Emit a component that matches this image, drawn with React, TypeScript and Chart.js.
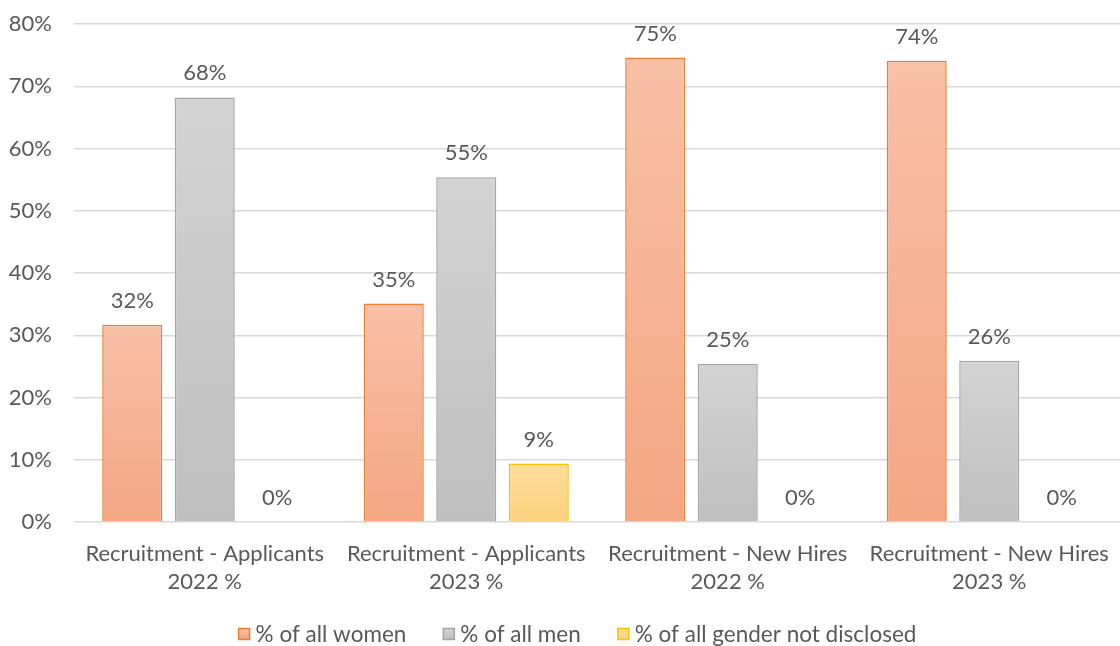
import React, { useEffect, useRef } from "react";
import { Chart, registerables } from "chart.js";
Chart.register(...registerables);

const categories: string[][] = [
  ["Recruitment - Applicants", "2022 %"],
  ["Recruitment - Applicants", "2023 %"],
  ["Recruitment - New Hires", "2022 %"],
  ["Recruitment - New Hires", "2023 %"],
];
const seriesNames = ["% of all women", "% of all men", "% of all gender not disclosed"];
const women = [31.7, 35.1, 74.6, 74.1];
const men = [68.2, 55.4, 25.4, 25.9];
const undisclosed = [0, 9.4, 0, 0];
const yMin = 0;
const yMax = 80;
const yStep = 10;

const FONT = "Lato";
const TEXT = "#595959";
const FS = 22;

const fills = [
  { top: "#f8c0a7", bottom: "#f4a682", border: "#ed7d31" },
  { top: "#d3d3d3", bottom: "#bfbfbf", border: "#a5a5a5" },
  { top: "#fedc9a", bottom: "#fdd27c", border: "#ffc000" },
];

function grad(top: string, bottom: string) {
  return (ctx: any) => {
    const chart = ctx.chart;
    if (!chart.chartArea || ctx.type !== "data") return bottom;
    const ys = chart.scales.y;
    const y0 = ys.getPixelForValue(0);
    const y1 = ys.getPixelForValue(ctx.raw);
    if (Math.abs(y0 - y1) < 1) return bottom;
    const g = chart.ctx.createLinearGradient(0, y1, 0, y0);
    g.addColorStop(0, top);
    g.addColorStop(1, bottom);
    return g;
  };
}

const dataLabels = {
  id: "dataLabels",
  afterDatasetsDraw(chart: any) {
    const { ctx } = chart;
    ctx.save();
    ctx.font = `${FS}px ${FONT}`;
    ctx.fillStyle = TEXT;
    ctx.textAlign = "center";
    ctx.textBaseline = "alphabetic";
    chart.data.datasets.forEach((ds: any, i: number) => {
      const meta = chart.getDatasetMeta(i);
      meta.data.forEach((el: any, j: number) => {
        const v = ds.data[j];
        ctx.fillText(`${Math.round(v)}%`, el.x, el.y - 17);
      });
    });
    ctx.restore();
  },
};

const customLegend = {
  id: "customLegend",
  afterDraw(chart: any) {
    const { ctx } = chart;
    const box = 11;
    const gap = 6;
    const spacing = 37;
    const cy = 634;
    const cx = 577.5;
    ctx.save();
    ctx.font = `${FS + 0.5}px ${FONT}`;
    const widths = seriesNames.map((n) => ctx.measureText(n).width);
    const total =
      widths.reduce((a, w) => a + box + gap + w, 0) + spacing * (seriesNames.length - 1);
    let x = cx - total / 2;
    ctx.textBaseline = "middle";
    ctx.textAlign = "left";
    seriesNames.forEach((n, i) => {
      const g = ctx.createLinearGradient(0, cy - box / 2, 0, cy + box / 2);
      g.addColorStop(0, fills[i].top);
      g.addColorStop(1, fills[i].bottom);
      ctx.fillStyle = g;
      ctx.fillRect(x, cy - box / 2, box, box);
      ctx.strokeStyle = fills[i].border;
      ctx.lineWidth = 1.5;
      ctx.strokeRect(x, cy - box / 2, box, box);
      ctx.fillStyle = TEXT;
      ctx.fillText(n, x + box + gap, cy + 1);
      x += box + gap + widths[i] + spacing;
    });
    ctx.restore();
  },
};

export default function App() {
  const ref = useRef<HTMLCanvasElement>(null);
  useEffect(() => {
    document.body.style.margin = "0";
    const values = [women, men, undisclosed];
    const chart = new Chart(ref.current!, {
      type: "bar",
      data: {
        labels: categories,
        datasets: values.map((d, i) => ({
          label: seriesNames[i],
          data: d,
          backgroundColor: grad(fills[i].top, fills[i].bottom),
          borderColor: fills[i].border,
          borderWidth: (c: any) => (c.raw === 0 ? 0 : 1.5),
          borderSkipped: "bottom",
          categoryPercentage: 0.832,
          barPercentage: 0.828,
        })),
      },
      options: {
        animation: false,
        responsive: true,
        maintainAspectRatio: false,
        layout: { padding: { top: 24, right: 0, left: 0, bottom: 40 } },
        plugins: {
          tooltip: { enabled: false },
          legend: { display: false },
        },
        scales: {
          x: {
            grid: { display: false },
            border: { display: false },
            ticks: {
              font: { family: FONT, size: FS, lineHeight: 1.27 },
              color: TEXT,
              padding: 10,
              maxRotation: 0,
              autoSkip: false,
            },
          },
          y: {
            min: yMin,
            max: yMax,
            afterFit: (s: any) => {
              s.width = 74;
            },
            grid: {
              color: "#d9d9d9",
              lineWidth: 1.5,
              drawTicks: true,
              tickLength: 22,
              tickColor: "rgba(0,0,0,0)",
            },
            border: { display: false },
            ticks: {
              stepSize: yStep,
              font: { family: FONT, size: FS },
              color: TEXT,
              padding: 0,
              callback: (v: any) => `${v}%`,
            },
          },
        },
      },
      plugins: [dataLabels, customLegend],
    });
    return () => chart.destroy();
  }, []);
  return (
    <div style={{ width: 1120, height: 646, position: "relative" }}>
      <canvas ref={ref} />
    </div>
  );
}
